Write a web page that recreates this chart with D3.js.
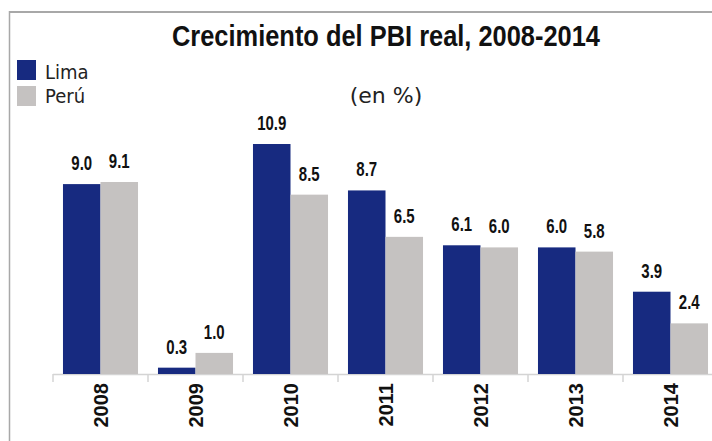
<!DOCTYPE html>
<html>
<head>
<meta charset="utf-8">
<script src="https://cdn.jsdelivr.net/npm/d3@7"></script>
<style>
  html, body { margin: 0; padding: 0; background: #fff; }
  svg { display: block; }
</style>
</head>
<body>
<svg id="chart" width="712" height="441"></svg>
<script>
const years = ["2008", "2009", "2010", "2011", "2012", "2013", "2014"];
const series = ["Lima", "Perú"];
const lima = [9.0, 0.3, 10.9, 8.7, 6.1, 6.0, 3.9];
const peru = [9.1, 1.0, 8.5, 6.5, 6.0, 5.8, 2.4];

const w = 712, h = 441;
const base = 374;

const color = d3.scaleOrdinal()
  .domain(series)
  .range(["#172a80", "#c5c2c1"]);

const svg = d3.select("#chart");

// frame
svg.append("line")
  .attr("x1", 9).attr("x2", w).attr("y1", 12).attr("y2", 12)
  .attr("stroke", "#a8a8a8").attr("stroke-width", 2);
svg.append("line")
  .attr("x1", 9.5).attr("x2", 9.5).attr("y1", 11).attr("y2", h)
  .attr("stroke", "#a8a8a8").attr("stroke-width", 1.5);

const x = d3.scaleBand()
  .domain(years)
  .range([53, 718])
  .paddingInner(0.21)
  .paddingOuter(0.105);

const xs = d3.scaleBand()
  .domain(series)
  .range([0, x.bandwidth()]);

const y = d3.scaleLinear()
  .domain([0, 12])
  .range([base, base - 12 * 21.1]);

const rows = years.map((yr, i) => ({ year: yr, values: [
  { key: "Lima", v: lima[i] },
  { key: "Perú", v: peru[i] }
]}));

// title
svg.append("text")
  .attr("x", 172).attr("y", 46)
  .attr("font-family", "Liberation Sans, sans-serif")
  .attr("font-weight", "bold")
  .attr("font-size", 29)
  .attr("textLength", 428)
  .attr("lengthAdjust", "spacingAndGlyphs")
  .attr("fill", "#111")
  .text("Crecimiento del PBI real, 2008-2014");

svg.append("text")
  .attr("x", 386).attr("y", 103)
  .attr("text-anchor", "middle")
  .attr("font-family", "DejaVu Sans, sans-serif")
  .attr("font-size", 22)
  .attr("fill", "#222")
  .text("(en %)");

// legend
const leg = svg.append("g");
series.forEach((s, i) => {
  leg.append("rect")
    .attr("x", 17).attr("y", 60 + i * 26)
    .attr("width", 19).attr("height", 20)
    .attr("fill", color(s));
  leg.append("text")
    .attr("x", 45).attr("y", 79 + i * 24)
    .attr("font-family", "DejaVu Sans, sans-serif")
    .attr("font-size", 20)
    .attr("transform", `translate(45,0) scale(0.9,1) translate(-45,0)`)
    .attr("fill", "#222")
    .text(s);
});

// axis line and ticks at category boundaries
const half = x.step() * x.paddingInner() / 2;
svg.append("line")
  .attr("x1", 53).attr("x2", 718).attr("y1", base + 0.5).attr("y2", base + 0.5)
  .attr("stroke", "#d4d4d4").attr("stroke-width", 1.5);
svg.selectAll(".tk")
  .data(years.concat(["end"]))
  .join("line")
  .attr("class", "tk")
  .attr("x1", d => d === "end" ? 718 : x(d) - half)
  .attr("x2", d => d === "end" ? 718 : x(d) - half)
  .attr("y1", base).attr("y2", base + 8)
  .attr("stroke", "#d4d4d4").attr("stroke-width", 1.5);

// bars
const groups = svg.selectAll(".grp")
  .data(rows)
  .join("g")
  .attr("class", "grp")
  .attr("transform", d => `translate(${x(d.year)},0)`);

groups.selectAll("rect")
  .data(d => d.values)
  .join("rect")
  .attr("x", d => xs(d.key))
  .attr("y", d => y(d.v))
  .attr("width", xs.bandwidth())
  .attr("height", d => y(0) - y(d.v))
  .attr("fill", d => color(d.key));

// value labels, squeezed to look condensed
groups.selectAll("text")
  .data(d => d.values)
  .join("text")
  .attr("transform", d => `translate(${xs(d.key) + xs.bandwidth() / 2},${y(d.v) - 14}) scale(0.75,1)`)
  .attr("text-anchor", "middle")
  .attr("font-family", "Liberation Sans, sans-serif")
  .attr("font-weight", "bold")
  .attr("font-size", 20)
  .attr("fill", "#111")
  .text(d => d3.format(".1f")(d.v));

// year labels
const ax = svg.append("g")
  .attr("transform", `translate(0,${base})`)
  .call(d3.axisBottom(x).tickSize(0));
ax.select(".domain").remove();
ax.selectAll("text")
  .attr("transform", "rotate(-90)")
  .attr("x", -9)
  .attr("y", 0)
  .attr("dy", "0.35em")
  .attr("text-anchor", "end")
  .attr("font-family", "Liberation Sans, Arial, sans-serif")
  .attr("font-weight", "bold")
  .attr("font-size", 20)
  .attr("fill", "#111");
</script>
</body>
</html>
